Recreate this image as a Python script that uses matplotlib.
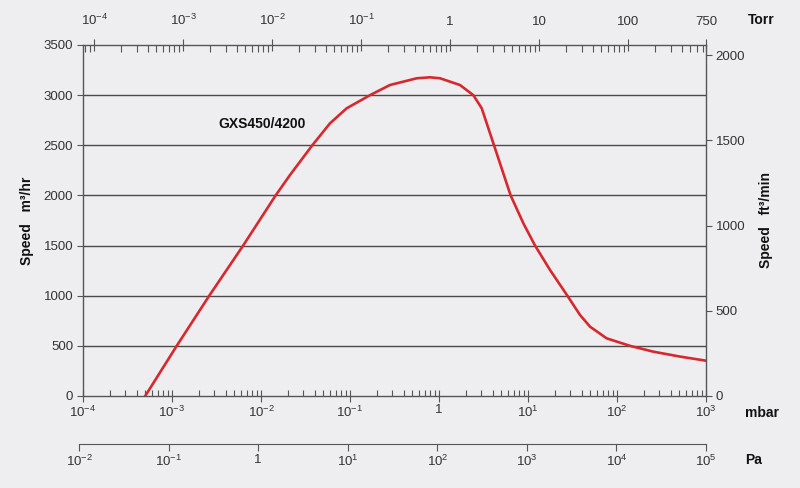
import matplotlib
matplotlib.use('Agg')
import matplotlib.pyplot as plt
from matplotlib.ticker import LogLocator, FixedLocator, FixedFormatter, NullFormatter

plt.rcParams['font.family'] = ['Liberation Sans', 'DejaVu Sans']
plt.rcParams['mathtext.fontset'] = 'custom'
plt.rcParams['mathtext.rm'] = 'Liberation Sans'
plt.rcParams['mathtext.it'] = 'Liberation Sans:italic'
plt.rcParams['mathtext.bf'] = 'Liberation Sans:bold'

# pump speed curve
pressure_mbar = [5.0e-4, 1.13e-3, 2.62e-3, 6.3e-3, 0.0146, 0.0212, 0.0377, 0.0596,
                 0.0918, 0.168, 0.281, 0.561, 0.79, 1.03, 1.72, 2.43, 3.02, 4.15,
                 6.38, 8.87, 12.0, 17.7, 27.7, 38.4, 49.8, 76.5, 140, 256, 511, 1000]
speed_m3h = [0, 500, 1000, 1500, 2000, 2204, 2500, 2719,
             2869, 3000, 3101, 3168, 3178, 3168, 3101, 3000, 2869, 2500,
             2000, 1722, 1500, 1256, 1000, 808, 691, 575, 500, 442, 393, 352]

curve_name = 'GXS450/4200'

mbar_ticks = [1e-4, 1e-3, 1e-2, 1e-1, 1, 1e1, 1e2, 1e3]
mbar_labels = [r'$\mathregular{10^{-4}}$', r'$\mathregular{10^{-3}}$', r'$\mathregular{10^{-2}}$',
               r'$\mathregular{10^{-1}}$', '1', r'$\mathregular{10^{1}}$',
               r'$\mathregular{10^{2}}$', r'$\mathregular{10^{3}}$']
torr_ticks = [1e-4, 1e-3, 1e-2, 1e-1, 1, 10, 100, 750]
torr_labels = [r'$\mathregular{10^{-4}}$', r'$\mathregular{10^{-3}}$', r'$\mathregular{10^{-2}}$',
               r'$\mathregular{10^{-1}}$', '1', '10', '100', '750']
pa_ticks = [1e-2, 1e-1, 1, 1e1, 1e2, 1e3, 1e4, 1e5]
pa_labels = [r'$\mathregular{10^{-2}}$', r'$\mathregular{10^{-1}}$', '1', r'$\mathregular{10^{1}}$',
             r'$\mathregular{10^{2}}$', r'$\mathregular{10^{3}}$', r'$\mathregular{10^{4}}$',
             r'$\mathregular{10^{5}}$']
speed_ticks = [0, 500, 1000, 1500, 2000, 2500, 3000, 3500]
cfm_ticks = [0, 500, 1000, 1500, 2000]

MBAR_TO_TORR = 0.750062
M3H_TO_CFM = 0.588578

bg = '#eeeef1'
txt = '#333333'
axc = '#555555'

fig = plt.figure(figsize=(8, 4.88), dpi=100, facecolor=bg)
ax = fig.add_axes([83/800, 92/488, 623/800, 351/488], facecolor=bg)

ax.plot(pressure_mbar, speed_m3h, color='#d7282d', lw=1.9, zorder=3)
ax.set_xscale('log')
ax.set_xlim(1e-4, 1e3)
ax.set_ylim(0, 3500)

for v in speed_ticks[1:-1]:
    ax.axhline(v, color='#4a4a4a', lw=1.0, zorder=1)

for s in ax.spines.values():
    s.set_color(axc)
    s.set_linewidth(1.0)

ax.xaxis.set_major_locator(FixedLocator(mbar_ticks))
ax.xaxis.set_major_formatter(FixedFormatter(mbar_labels))
ax.xaxis.set_minor_locator(LogLocator(base=10, subs=range(2, 10), numticks=20))
ax.xaxis.set_minor_formatter(NullFormatter())
ax.tick_params(axis='x', which='major', direction='inout', length=8, width=0.8,
               color=axc, labelsize=9.5, labelcolor=txt, pad=2)
ax.tick_params(axis='x', which='minor', direction='in', length=4, width=0.8, color=axc)

ax.set_yticks(speed_ticks)
ax.tick_params(axis='y', which='major', direction='out', length=4, width=0.8,
               color=axc, labelsize=9.5, labelcolor=txt, pad=3)
ax.set_ylabel('Speed   m³/hr', fontsize=10, fontweight='bold', color='#111111', labelpad=7)

ax.text(3.3e-3, 2710, curve_name, fontsize=10, fontweight='bold', color='#111111',
        ha='left', va='center')

# right axis in ft3/min
axr = ax.twinx()
axr.set_ylim(0, 3500 * M3H_TO_CFM)
axr.set_yticks(cfm_ticks)
axr.tick_params(axis='y', direction='out', length=4, width=0.8, color=axc,
                labelsize=9.5, labelcolor=txt, pad=3)
for s in axr.spines.values():
    s.set_visible(False)
axr.set_ylabel('Speed   ft³/min', fontsize=10, fontweight='bold', color='#111111', labelpad=10)

# top axis in Torr
axt = ax.twiny()
axt.set_xscale('log')
axt.set_xlim(1e-4 * MBAR_TO_TORR, 1e3 * MBAR_TO_TORR)
axt.xaxis.set_major_locator(FixedLocator(torr_ticks))
axt.xaxis.set_major_formatter(FixedFormatter(torr_labels))
axt.xaxis.set_minor_locator(LogLocator(base=10, subs=range(2, 10), numticks=20))
axt.xaxis.set_minor_formatter(NullFormatter())
axt.tick_params(axis='x', which='major', direction='inout', length=9, width=0.8,
                color=axc, labelsize=9.5, labelcolor=txt, pad=8)
axt.tick_params(axis='x', which='minor', direction='in', length=5, width=0.8, color=axc)
for s in axt.spines.values():
    s.set_visible(False)

# separate Pa scale below
axp = fig.add_axes([79/800, 44/488, 627/800, 0.001], facecolor='none')
axp.set_xscale('log')
axp.set_xlim(1e-2, 1e5)
axp.set_yticks([])
for k in ['top', 'left', 'right']:
    axp.spines[k].set_visible(False)
axp.spines['bottom'].set_color(axc)
axp.xaxis.set_major_locator(FixedLocator(pa_ticks))
axp.xaxis.set_major_formatter(FixedFormatter(pa_labels))
axp.xaxis.set_minor_locator(FixedLocator([]))
axp.tick_params(axis='x', direction='out', length=5, width=0.8, color=axc,
                labelsize=9.5, labelcolor=txt, pad=2)

fig.text(748/800, 1 - 20/488, 'Torr', fontsize=10, fontweight='bold', color='#111111', va='center')
fig.text(745/800, 1 - 413/488, 'mbar', fontsize=10, fontweight='bold', color='#111111', va='center')
fig.text(745/800, 1 - 460/488, 'Pa', fontsize=10, fontweight='bold', color='#111111', va='center')

fig.savefig('out.png', dpi=100, facecolor=bg)
